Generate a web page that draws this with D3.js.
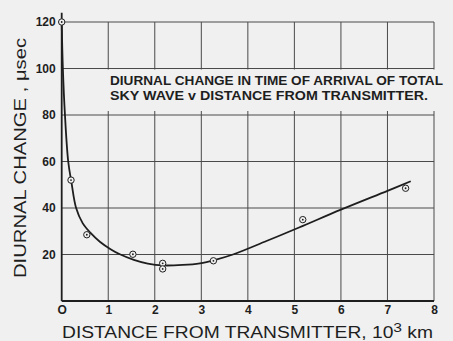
<!DOCTYPE html>
<html>
<head>
<meta charset="utf-8">
<script src="https://cdn.jsdelivr.net/npm/d3@7"></script>
<style>
  html, body { margin: 0; padding: 0; background: #f0f0f0; }
  svg { display: block; }
</style>
</head>
<body>
<svg id="chart" width="453" height="341"></svg>
<script>
// Measured points: distance (10^3 km) and diurnal change (µsec)
const pointDistance = [0, 0.2, 0.54, 1.53, 2.17, 2.17, 3.26, 5.18, 7.39];
const pointChange   = [120, 52, 28.5, 20.1, 16.2, 13.8, 17.3, 35, 48.5];

// Fitted curve through the measurements
const curveDistance = [0, 0.025, 0.07, 0.14, 0.21, 0.31, 0.45, 0.62, 0.82, 1.05, 1.25, 1.55, 1.85, 2.17, 2.6, 2.97, 3.3, 3.68, 4.4, 5.1, 6.0, 7.0, 7.5];
const curveChange   = [120, 100, 80, 60, 51, 40, 33.5, 29.3, 25.5, 22.3, 20.1, 17.7, 16.1, 15.3, 15.5, 16.2, 17.7, 20, 25.8, 31.6, 39.3, 47.4, 51.5];

const xTicks = [0, 1, 2, 3, 4, 5, 6, 7, 8];
const xTickLabels = ["O", "1", "2", "3", "4", "5", "6", "7", "8"];
const yTicks = [20, 40, 60, 80, 100, 120];
const yGrid = [20, 40, 60, 80, 100];

const titleLines = [
  "DIURNAL CHANGE IN TIME OF ARRIVAL OF TOTAL",
  "SKY WAVE  v DISTANCE FROM TRANSMITTER."
];

const svg = d3.select("#chart");
const ink = "#1e1e1e";
const gridInk = "#4a4a4a";
const paper = "#f0f0f0";

const x = d3.scaleLinear().domain([0, 8]).range([61.7, 434]);
const y = d3.scaleLinear().domain([0, 120]).range([301, 22]);

// Horizontal grid lines (top border at 120 included)
svg.append("g").selectAll("line").data(yGrid.concat([120])).join("line")
  .attr("x1", x(0)).attr("x2", x(8))
  .attr("y1", d => y(d)).attr("y2", d => y(d))
  .attr("stroke", gridInk).attr("stroke-width", 1);

// Vertical grid lines, broken where the caption sits between 80 and 100
const vGrid = svg.append("g");
xTicks.filter(d => d > 0).forEach(d => {
  vGrid.append("line")
    .attr("x1", x(d)).attr("x2", x(d))
    .attr("y1", y(120)).attr("y2", y(100) + 1)
    .attr("stroke", gridInk).attr("stroke-width", 1);
  vGrid.append("line")
    .attr("x1", x(d)).attr("x2", x(d))
    .attr("y1", y(80) - 4).attr("y2", y(0))
    .attr("stroke", gridInk).attr("stroke-width", 1);
});

// Axes lines
svg.append("line")
  .attr("x1", x(0)).attr("x2", x(0))
  .attr("y1", y(124)).attr("y2", y(0))
  .attr("stroke", ink).attr("stroke-width", 1.8);
svg.append("line")
  .attr("x1", x(0)).attr("x2", x(8))
  .attr("y1", y(0)).attr("y2", y(0))
  .attr("stroke", ink).attr("stroke-width", 1.8);

// Tick labels via d3 axes
const xAxis = d3.axisBottom(x).tickValues(xTicks)
  .tickFormat((d, i) => xTickLabels[i]).tickSize(0).tickPadding(0);
const gx = svg.append("g").attr("transform", `translate(0,${y(0) + 4})`).call(xAxis);
gx.select(".domain").remove();
gx.selectAll("text")
  .attr("dy", "0.71em")
  .attr("fill", ink)
  .style("font-family", "'Liberation Sans', Arial, sans-serif")
  .style("font-weight", "bold")
  .style("font-size", "12px");

const yAxis = d3.axisLeft(y).tickValues(yTicks).tickSize(0).tickPadding(0);
const gy = svg.append("g").attr("transform", `translate(${x(0) - 6},0)`).call(yAxis);
gy.select(".domain").remove();
gy.selectAll("text")
  .attr("fill", ink)
  .style("font-family", "'Liberation Sans', Arial, sans-serif")
  .style("font-weight", "bold")
  .style("font-size", "12px");

// Caption inside the plot
const cap = svg.append("g")
  .style("font-family", "'Liberation Sans', Arial, sans-serif")
  .style("font-weight", "bold")
  .style("font-size", "12.5px")
  .attr("fill", ink);
cap.append("text").attr("x", 110).attr("y", 85)
  .attr("textLength", 333).attr("lengthAdjust", "spacingAndGlyphs")
  .text(titleLines[0]);
cap.append("text").attr("x", 110).attr("y", 99.5)
  .attr("textLength", 318).attr("lengthAdjust", "spacingAndGlyphs")
  .text(titleLines[1]);

// Fitted curve
const line = d3.line()
  .x((d, i) => x(curveDistance[i]))
  .y((d, i) => y(curveChange[i]))
  .curve(d3.curveCatmullRom.alpha(0.5));
svg.append("path")
  .datum(curveChange)
  .attr("d", line)
  .attr("fill", "none")
  .attr("stroke", ink)
  .attr("stroke-width", 1.8);

// Measured points: small circle with centre dot
const pts = svg.append("g").selectAll("g").data(pointChange).join("g")
  .attr("transform", (d, i) => `translate(${x(pointDistance[i])},${y(d)})`);
pts.append("circle").attr("r", 3.2)
  .attr("fill", paper).attr("stroke", ink).attr("stroke-width", 1);
pts.append("circle").attr("r", 0.9).attr("fill", ink);

// Axis titles
const xt = svg.append("text")
  .attr("x", 62).attr("y", 337.5)
  .attr("textLength", 371).attr("lengthAdjust", "spacingAndGlyphs")
  .attr("fill", ink)
  .style("font-family", "'Liberation Sans', Arial, sans-serif")
  .style("font-size", "16px");
xt.append("tspan").text("DISTANCE  FROM  TRANSMITTER, 10");
xt.append("tspan").attr("dy", -6).style("font-size", "13px").text("3");
xt.append("tspan").attr("dy", 6).text(" km");

svg.append("text")
  .attr("transform", "translate(25.5,278) rotate(-90)")
  .attr("x", 0).attr("y", 0)
  .attr("textLength", 240).attr("lengthAdjust", "spacingAndGlyphs")
  .attr("fill", ink)
  .style("font-family", "'Liberation Sans', Arial, sans-serif")
  .style("font-size", "16px")
  .text("DIURNAL  CHANGE , μsec");
</script>
</body>
</html>
